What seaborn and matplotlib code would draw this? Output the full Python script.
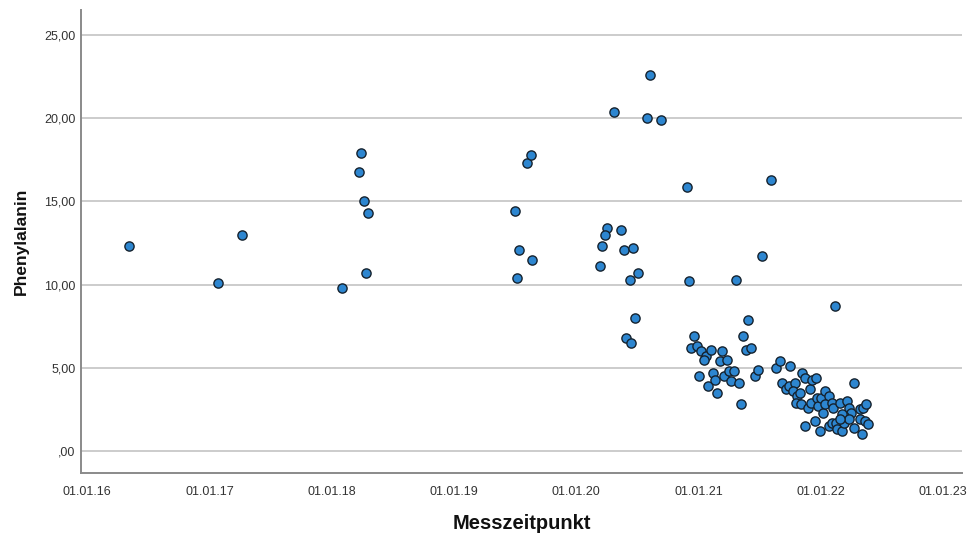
import matplotlib
matplotlib.use("Agg")
import matplotlib.pyplot as plt
import matplotlib.dates as mdates
import matplotlib.ticker as ticker
import seaborn as sns
import pandas as pd

# Messzeitpunkte (Datum) und Phenylalanin-Werte
dates = [
    "2016-05-04", "2017-01-25", "2017-04-08",
    "2018-02-01", "2018-03-28", "2018-03-22", "2018-04-06", "2018-04-20", "2018-04-12",
    "2019-07-02", "2019-08-06", "2019-08-20", "2019-07-15", "2019-08-21", "2019-07-09",
    "2020-08-07", "2020-04-23", "2020-07-31", "2020-09-11", "2020-11-26",
    "2020-04-03", "2020-03-26", "2020-05-15", "2020-03-19", "2020-05-22", "2020-06-20",
    "2020-03-12", "2020-06-11", "2020-07-03", "2020-06-26", "2020-05-29", "2020-06-13",
    "2020-12-03",
    "2021-08-06", "2021-07-08", "2021-04-22", "2022-02-12", "2021-05-27", "2021-05-14",
    "2020-12-19", "2020-12-10", "2020-12-26", "2021-01-08", "2021-01-23", "2021-01-16",
    "2021-02-06", "2021-03-12", "2021-03-05", "2021-03-27", "2021-05-22", "2021-06-05",
    "2021-01-01", "2021-01-29", "2021-02-12", "2021-02-19", "2021-02-26", "2021-03-19",
    "2021-04-02", "2021-04-17", "2021-04-09", "2021-05-01", "2021-05-07", "2021-06-18",
    "2021-06-26", "2021-08-19", "2021-09-02", "2021-09-30", "2021-09-08", "2021-09-18",
    "2021-09-28", "2021-10-16", "2021-10-11", "2021-10-23", "2021-10-19", "2021-11-05",
    "2021-11-01", "2021-11-16", "2021-11-29", "2021-12-07", "2021-12-19", "2021-11-04",
    "2021-11-25", "2021-12-03", "2021-12-20", "2021-12-24", "2022-01-03", "2022-01-09",
    "2022-01-14", "2022-01-24", "2022-01-13", "2022-02-03", "2022-02-07", "2021-11-15",
    "2021-12-15", "2021-12-29", "2022-02-27", "2022-03-19", "2022-03-25", "2022-03-31",
    "2022-03-12", "2022-03-04", "2022-04-09", "2022-04-28", "2022-05-06", "2022-05-15",
    "2022-01-25", "2022-02-04", "2022-02-16", "2022-02-19", "2022-03-05", "2022-03-11",
    "2022-03-27", "2022-04-11", "2022-04-29", "2022-05-13", "2022-05-21", "2022-05-05",
    "2022-02-28",
]
phe = [
    12.3, 10.1, 13.0,
    9.8, 17.9, 16.8, 15.0, 14.3, 10.7,
    14.4, 17.3, 17.8, 12.1, 11.5, 10.4,
    22.6, 20.4, 20.0, 19.9, 15.9,
    13.4, 13.0, 13.3, 12.3, 12.1, 12.2,
    11.1, 10.3, 10.7, 8.0, 6.8, 6.5,
    10.2,
    16.3, 11.7, 10.3, 8.7, 7.9, 6.9,
    6.9, 6.2, 6.3, 6.0, 5.7, 5.5,
    6.1, 6.0, 5.4, 5.5, 6.1, 6.2,
    4.5, 3.9, 4.7, 4.3, 3.5, 4.5,
    4.8, 4.8, 4.2, 4.1, 2.8, 4.5,
    4.9, 5.0, 5.4, 5.1, 4.1, 3.7,
    3.9, 4.1, 3.6, 3.3, 2.9, 4.7,
    3.5, 4.4, 3.7, 4.3, 4.4, 2.8,
    2.6, 2.9, 3.2, 2.7, 3.2, 2.3,
    3.6, 3.3, 2.8, 2.9, 2.6, 1.5,
    1.8, 1.2, 2.9, 3.0, 2.6, 2.3,
    2.1, 2.2, 4.1, 2.5, 2.6, 2.8,
    1.5, 1.7, 1.7, 1.3, 1.2, 1.7,
    1.9, 1.4, 1.9, 1.8, 1.6, 1.0,
    1.9,
]
year_ticks = ["2016-01-01", "2017-01-01", "2018-01-01", "2019-01-01",
              "2020-01-01", "2021-01-01", "2022-01-01", "2023-01-01"]
y_ticks = [0, 5, 10, 15, 20, 25]

df = pd.DataFrame({"Messzeitpunkt": pd.to_datetime(dates), "Phenylalanin": phe})

sns.set_theme(style="white")
plt.rcParams["font.family"] = ["Liberation Sans", "DejaVu Sans"]

fig = plt.figure(figsize=(9.69, 5.34), dpi=100)
ax = fig.add_axes([0.0836, 0.1142, 0.9092, 0.8668])

sns.scatterplot(data=df, x="Messzeitpunkt", y="Phenylalanin", ax=ax,
                s=44, color="#2d86d0", edgecolor="#15222e", linewidth=1.0,
                zorder=3)

ax.set_xlim(pd.Timestamp("2015-12-13"), pd.Timestamp("2023-02-27"))
ax.set_ylim(-1.32, 26.5)
ax.set_xticks(pd.to_datetime(year_ticks))
ax.xaxis.set_major_formatter(mdates.DateFormatter("%d.%m.%y"))
ax.set_yticks(y_ticks)


def komma_fmt(v, pos):
    s = f"{v:.2f}".replace(".", ",")
    return s[1:] if s.startswith("0,") else s


ax.yaxis.set_major_formatter(ticker.FuncFormatter(komma_fmt))

ax.grid(axis="y", color="#c8c8c8", linewidth=1.3, zorder=0)
ax.grid(axis="x", visible=False)
for side in ["top", "right"]:
    ax.spines[side].set_visible(False)
for side in ["left", "bottom"]:
    ax.spines[side].set_color("#8a8a8a")
    ax.spines[side].set_linewidth(1.4)

ax.tick_params(axis="x", length=0, pad=9, labelsize=9, labelcolor="#333333")
ax.tick_params(axis="y", length=0, pad=4, labelsize=9, labelcolor="#333333")

ax.set_xlabel("Messzeitpunkt", fontsize=14.5, fontweight="bold", labelpad=12,
              color="#111111")
ax.set_ylabel("Phenylalanin", fontsize=12.5, fontweight="bold", labelpad=11,
              color="#111111")

fig.savefig("out.png", dpi=100)
